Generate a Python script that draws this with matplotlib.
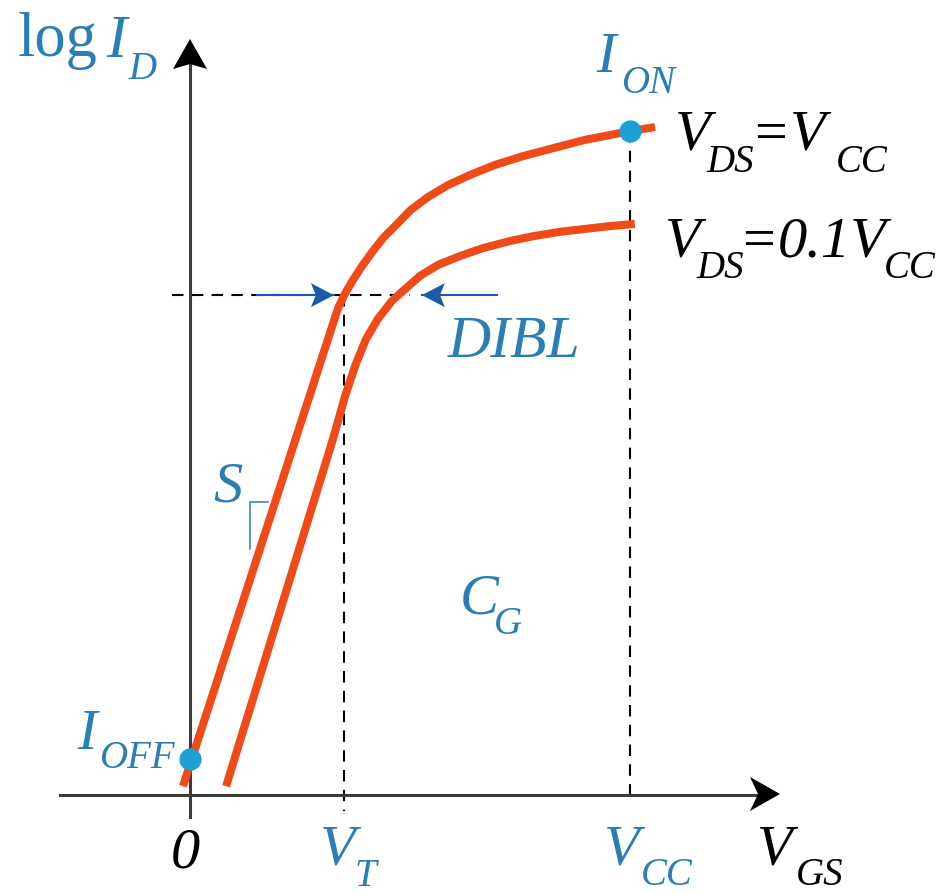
import matplotlib
matplotlib.use("Agg")
import matplotlib.pyplot as plt
import numpy as np

# Transfer characteristics, V_GS in units of V_CC, log I_D in arbitrary units
vgs_full = [-0.016, 0.336, 0.352, 0.370, 0.391, 0.414, 0.439, 0.468, 0.502,
            0.541, 0.586, 0.636, 0.693, 0.757, 0.825, 0.898, 0.955, 1.000, 1.057]
logid_full = [0.020, 1.105, 1.139, 1.170, 1.202, 1.234, 1.266, 1.295, 1.330,
              1.359, 1.386, 1.409, 1.432, 1.452, 1.470, 1.489, 1.500, 1.509, 1.518]

vgs_low = [0.082, 0.325, 0.352, 0.377, 0.400, 0.427, 0.459, 0.489, 0.523,
           0.564, 0.614, 0.666, 0.727, 0.780, 0.841, 0.893, 0.955, 1.011]
logid_low = [0.020, 0.809, 0.905, 0.980, 1.036, 1.082, 1.123, 1.150, 1.180,
             1.205, 1.225, 1.243, 1.259, 1.270, 1.280, 1.286, 1.293, 1.298]

v_t = 0.35
v_cc = 1.0
i_off = (0.0, 0.082)
i_on = (1.0, 1.509)
dibl_level = 1.136
dibl_left = (0.152, 0.327)   # tail, tip
dibl_right = (0.697, 0.527)

ORANGE = '#EF4A17'
BLUE = '#2A7DB5'
DOT = '#1BA1D6'
ARROW = '#1B5AA6'
AXIS = '#3C3C3C'
FONT = 'Liberation Serif'

W, H = 949, 895
X0, Y0, S = 190, 796, 440.0


def P(px, py):
    # pixel position -> data coordinates
    return (px - X0) / S, (Y0 - py) / S


def Q(x, y):
    # data coordinates -> pixel position
    return X0 + x * S, Y0 - y * S


fig = plt.figure(figsize=(W / 100, H / 100), dpi=100)
ax = fig.add_axes([0, 0, 1, 1])
ax.set_xlim(-X0 / S, (W - X0) / S)
ax.set_ylim((Y0 - H) / S, Y0 / S)
ax.axis('off')


def head(tip, back, half, notch, color):
    # stealth style arrow head, sizes in pixels
    tx, ty = tip
    bx, by = back
    d = np.array([tx - bx, ty - by], float)
    u = d / np.hypot(*d)
    n = np.array([-u[1], u[0]])
    b = np.array([bx, by], float)
    pts = [np.array([tx, ty], float), b + n * half, b + u * notch, b - n * half]
    xs, ys = zip(*[P(*p) for p in pts])
    ax.fill(xs, ys, color=color, lw=0, zorder=6)


# axes
ax.plot(*zip(P(X0, 818), P(X0, 60)), color=AXIS, lw=2.2, zorder=3)
ax.plot(*zip(P(60, Y0), P(765, Y0)), color=AXIS, lw=2.2, zorder=3)
head((X0, 40), (X0, 70), 17, 5, 'black')
head((780, Y0 - 1), (750, Y0 - 1), 17, 8, 'black')

# guide lines
dash = dict(color='black', lw=1.5, dashes=(5.5, 4), zorder=2)
ax.plot([-0.04, 0.50], [dibl_level, dibl_level], **dash)
ax.plot([v_t, v_t], [dibl_level, -0.036], **dash)
ax.plot([v_cc, v_cc], [i_on[1], 0.0], **dash)

# curves
for xs, ys in [(vgs_full, logid_full), (vgs_low, logid_low)]:
    ax.plot(xs, ys, color=ORANGE, lw=5.8, solid_capstyle='butt',
            solid_joinstyle='round', zorder=4)
ax.plot(*i_off, 'o', color=DOT, ms=16, mec='none', zorder=5)
ax.plot(*i_on, 'o', color=DOT, ms=16, mec='none', zorder=5)

# DIBL arrows
for tail, tip in [dibl_left, dibl_right]:
    ax.plot([tail, tip], [dibl_level, dibl_level], color=ARROW, lw=1.5, zorder=5)
    tx, ty = Q(tip, dibl_level)
    sgn = 1 if tip > tail else -1
    head((tx, ty), (tx - sgn * 23, ty), 12, 5, ARROW)

# slope bracket
ax.plot(*zip(P(250, 550), P(250, 503), P(268, 503)), color=BLUE, lw=1.1)


def put(px, py, s, size=42, color=BLUE, style='italic'):
    ax.text(*P(px, py), s, fontsize=size, color=color, fontfamily=FONT,
            fontstyle=style, ha='left', va='baseline', zorder=7)


SUB = 28
put(18, 56, 'log', 45, style='normal')
put(106, 57, 'I', 44)
put(128, 79, 'D', SUB)

put(596, 72, 'I')
put(621, 93, 'ON', SUB)

put(675, 150, 'V', color='black')
put(706, 172, 'DS', SUB, color='black')
put(754, 150, '=', color='black', style='normal')
put(790, 150, 'V', color='black')
put(836, 172, 'CC', SUB, color='black')

put(665, 257, 'V', color='black')
put(696, 278, 'DS', SUB, color='black')
put(742, 257, '=', color='black', style='normal')
put(778, 257, '0.1V', color='black')
put(884, 278, 'CC', SUB, color='black')

put(448, 357, 'DIBL', 43)
put(213, 502, 'S')
put(460, 613, 'C')
put(494, 634, 'G', SUB)

put(77, 749, 'I')
put(99, 768, 'OFF', SUB)

put(171, 868, '0', color='black')
put(320, 865, 'V')
put(354, 886, 'T', SUB)
put(604, 865, 'V')
put(641, 885, 'CC', SUB)
put(757, 865, 'V', color='black')
put(796, 885, 'GS', SUB, color='black')

fig.savefig('out.png', dpi=100)
